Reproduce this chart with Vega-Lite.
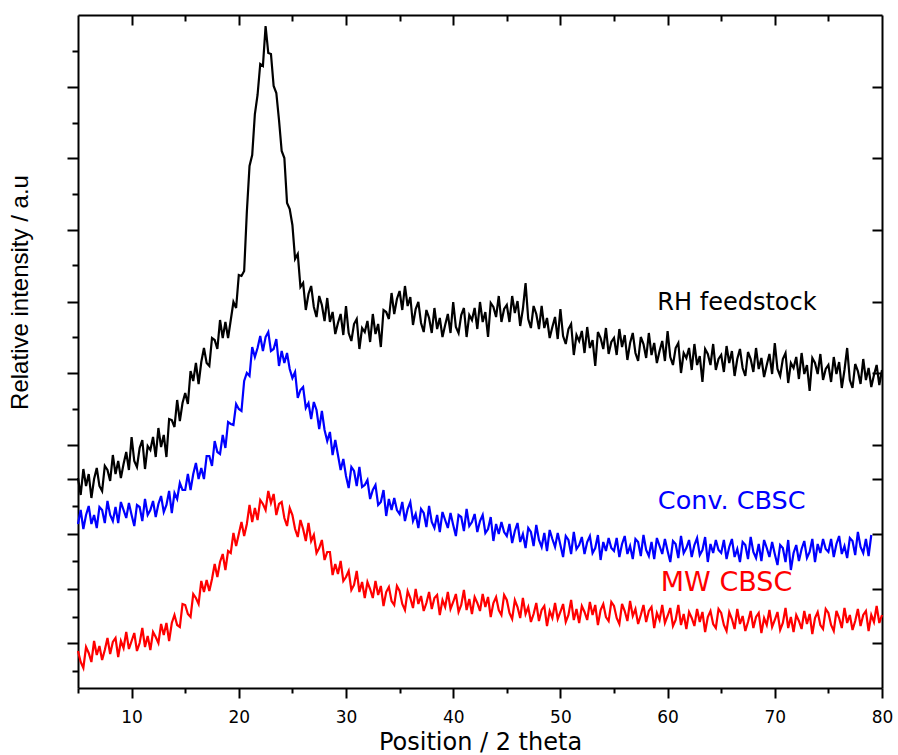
{
"$schema": "https://vega.github.io/schema/vega-lite/v6.json",
"width": 804, "height": 673,
"autosize": {"type": "none"},
"padding": {"left": 78, "top": 15, "right": 16, "bottom": 67},
"background": "white",
"config": {"view": {"stroke": null}, "font": "DejaVu Sans",
  "axis": {"grid": false, "domainColor": "#000", "domainWidth": 2, "tickColor": "#000", "tickWidth": 2, "labelColor": "#000", "titleColor": "#000", "titleFontWeight": "normal", "labelFlush": false, "labelOverlap": false}},
"datasets": {
"xrd": [
{"x":5,"a":210,"b":164,"c":37},{"x":5.25,"a":193,"b":178,"c":26},{"x":5.5,"a":219,"b":159,"c":20},{"x":5.75,"a":202,"b":173,"c":41},
{"x":6,"a":214,"b":182,"c":35},{"x":6.25,"a":190,"b":164,"c":26},{"x":6.5,"a":209,"b":173,"c":47},{"x":6.75,"a":220,"b":160,"c":33},
{"x":7,"a":202,"b":181,"c":42},{"x":7.25,"a":197,"b":178,"c":28},{"x":7.5,"a":222,"b":165,"c":38},{"x":7.75,"a":218,"b":187,"c":50},
{"x":8,"a":207,"b":173,"c":34},{"x":8.25,"a":233,"b":167,"c":46},{"x":8.5,"a":214,"b":181,"c":50},{"x":8.75,"a":227,"b":165,"c":31},
{"x":9,"a":210,"b":186,"c":47},{"x":9.25,"a":224,"b":178,"c":40},{"x":9.5,"a":236,"b":170,"c":56},{"x":9.75,"a":218,"b":185,"c":39},
{"x":10,"a":251,"b":173,"c":47},{"x":10.25,"a":227,"b":162,"c":55},{"x":10.5,"a":221,"b":183,"c":37},{"x":10.75,"a":240,"b":181,"c":45},
{"x":11,"a":248,"b":167,"c":60},{"x":11.25,"a":219,"b":189,"c":41},{"x":11.5,"a":242,"b":173,"c":52},{"x":11.75,"a":238,"b":178,"c":38},
{"x":12,"a":251,"b":187,"c":56},{"x":12.25,"a":231,"b":171,"c":51},{"x":12.5,"a":260,"b":184,"c":45},{"x":12.75,"a":241,"b":192,"c":64},
{"x":13,"a":253,"b":176,"c":53},{"x":13.25,"a":231,"b":183,"c":65},{"x":13.5,"a":269,"b":197,"c":47},{"x":13.75,"a":268,"b":175,"c":65},
{"x":14,"a":261,"b":195,"c":73},{"x":14.25,"a":288,"b":189,"c":63},{"x":14.5,"a":267,"b":205,"c":61},{"x":14.75,"a":285,"b":198,"c":84},
{"x":15,"a":295,"b":198,"c":83},{"x":15.25,"a":284,"b":214,"c":74},{"x":15.5,"a":317,"b":198,"c":71},{"x":15.75,"a":307,"b":214,"c":94},
{"x":16,"a":325,"b":225,"c":90},{"x":16.25,"a":304,"b":209,"c":84},{"x":16.5,"a":326,"b":220,"c":107},{"x":16.75,"a":340,"b":209,"c":96},
{"x":17,"a":325,"b":232,"c":108},{"x":17.25,"a":322,"b":232,"c":97},{"x":17.5,"a":350,"b":222,"c":109},{"x":17.75,"a":348,"b":247,"c":124},
{"x":18,"a":339,"b":236,"c":111},{"x":18.25,"a":368,"b":234,"c":126},{"x":18.5,"a":350,"b":253,"c":134},{"x":18.75,"a":366,"b":240,"c":118},
{"x":19,"a":350,"b":266,"c":137},{"x":19.25,"a":368,"b":264,"c":135},{"x":19.5,"a":386,"b":263,"c":155},{"x":19.75,"a":380,"b":284,"c":142},
{"x":20,"a":413,"b":279,"c":154},{"x":20.25,"a":412,"b":277,"c":166},{"x":20.5,"a":417,"b":307,"c":152},{"x":20.75,"a":476,"b":315,"c":164},
{"x":21,"a":522,"b":312,"c":183},{"x":21.25,"a":533,"b":341,"c":166},{"x":21.5,"a":574,"b":331,"c":180},{"x":21.75,"a":593,"b":340,"c":168},
{"x":22,"a":624,"b":352,"c":188},{"x":22.25,"a":622,"b":337,"c":184},{"x":22.5,"a":662,"b":351,"c":178},{"x":22.75,"a":635,"b":356,"c":197},
{"x":23,"a":634,"b":337,"c":185},{"x":23.25,"a":602,"b":339,"c":194},{"x":23.5,"a":595,"b":349,"c":173},{"x":23.75,"a":568,"b":322,"c":184},
{"x":24,"a":537,"b":337,"c":186},{"x":24.25,"a":530,"b":325,"c":170},{"x":24.5,"a":485,"b":335,"c":162},{"x":24.75,"a":479,"b":319,"c":180},
{"x":25,"a":463,"b":310,"c":173},{"x":25.25,"a":429,"b":316,"c":159},{"x":25.5,"a":434,"b":290,"c":151},{"x":25.75,"a":401,"b":298,"c":168},
{"x":26,"a":405,"b":301,"c":159},{"x":26.25,"a":378,"b":280,"c":147},{"x":26.5,"a":394,"b":285,"c":165},{"x":26.75,"a":402,"b":269,"c":147},
{"x":27,"a":381,"b":286,"c":153},{"x":27.25,"a":371,"b":278,"c":135},{"x":27.5,"a":392,"b":259,"c":140},{"x":27.75,"a":383,"b":277,"c":148},
{"x":28,"a":367,"b":258,"c":128},{"x":28.25,"a":390,"b":247,"c":136},{"x":28.5,"a":366,"b":256,"c":136},{"x":28.75,"a":376,"b":233,"c":113},
{"x":29,"a":354,"b":248,"c":124},{"x":29.25,"a":365,"b":233,"c":114},{"x":29.5,"a":374,"b":218,"c":127},{"x":29.75,"a":353,"b":229,"c":107},
{"x":30,"a":382,"b":212,"c":111},{"x":30.25,"a":355,"b":200,"c":117},{"x":30.5,"a":347,"b":221,"c":98},{"x":30.75,"a":364,"b":217,"c":103},
{"x":31,"a":369,"b":202,"c":117},{"x":31.25,"a":339,"b":221,"c":96},{"x":31.5,"a":360,"b":201,"c":106},{"x":31.75,"a":356,"b":203,"c":90},
{"x":32,"a":367,"b":208,"c":106},{"x":32.25,"a":346,"b":189,"c":99},{"x":32.5,"a":374,"b":198,"c":90},{"x":32.75,"a":354,"b":203,"c":107},
{"x":33,"a":364,"b":183,"c":93},{"x":33.25,"a":341,"b":186,"c":102},{"x":33.5,"a":378,"b":198,"c":82},{"x":33.75,"a":376,"b":172,"c":96},
{"x":34,"a":369,"b":189,"c":101},{"x":34.25,"a":395,"b":178,"c":87},{"x":34.5,"a":374,"b":190,"c":83},{"x":34.75,"a":389,"b":178,"c":102},
{"x":35,"a":397,"b":174,"c":97},{"x":35.25,"a":378,"b":186,"c":84},{"x":35.5,"a":402,"b":167,"c":78},{"x":35.75,"a":382,"b":179,"c":97},
{"x":36,"a":391,"b":186,"c":90},{"x":36.25,"a":363,"b":167,"c":80},{"x":36.5,"a":379,"b":174,"c":99},{"x":36.75,"a":386,"b":160,"c":84},
{"x":37,"a":365,"b":179,"c":92},{"x":37.25,"a":356,"b":175,"c":77},{"x":37.5,"a":378,"b":161,"c":85},{"x":37.75,"a":370,"b":182,"c":96},
{"x":38,"a":355,"b":166,"c":79},{"x":38.25,"a":380,"b":160,"c":90},{"x":38.5,"a":359,"b":173,"c":93},{"x":38.75,"a":370,"b":156,"c":73},
{"x":39,"a":351,"b":176,"c":88},{"x":39.25,"a":363,"b":168,"c":81},{"x":39.5,"a":374,"b":160,"c":96},{"x":39.75,"a":355,"b":175,"c":79},
{"x":40,"a":386,"b":163,"c":86},{"x":40.25,"a":361,"b":152,"c":94},{"x":40.5,"a":355,"b":173,"c":76},{"x":40.75,"a":373,"b":171,"c":83},
{"x":41,"a":380,"b":157,"c":98},{"x":41.25,"a":351,"b":179,"c":78},{"x":41.5,"a":373,"b":162,"c":89},{"x":41.75,"a":368,"b":166,"c":74},
{"x":42,"a":380,"b":174,"c":91},{"x":42.25,"a":359,"b":156,"c":85},{"x":42.5,"a":386,"b":167,"c":77},{"x":42.75,"a":366,"b":173,"c":94},
{"x":43,"a":376,"b":155,"c":81},{"x":43.25,"a":351,"b":159,"c":91},{"x":43.5,"a":385,"b":171,"c":71},{"x":43.75,"a":381,"b":147,"c":85},
{"x":44,"a":371,"b":164,"c":91},{"x":44.25,"a":392,"b":154,"c":78},{"x":44.5,"a":366,"b":166,"c":73},{"x":44.75,"a":379,"b":156,"c":93},
{"x":45,"a":383,"b":152,"c":88},{"x":45.25,"a":366,"b":164,"c":75},{"x":45.5,"a":392,"b":145,"c":69},{"x":45.75,"a":375,"b":157,"c":88},
{"x":46,"a":387,"b":165,"c":81},{"x":46.25,"a":362,"b":146,"c":70},{"x":46.5,"a":379,"b":154,"c":90},{"x":46.75,"a":405,"b":140,"c":74},
{"x":47,"a":369,"b":160,"c":81},{"x":47.25,"a":360,"b":156,"c":66},{"x":47.5,"a":382,"b":142,"c":74},{"x":47.75,"a":374,"b":163,"c":85},
{"x":48,"a":359,"b":148,"c":67},{"x":48.25,"a":382,"b":141,"c":78},{"x":48.5,"a":360,"b":155,"c":82},{"x":48.75,"a":370,"b":137,"c":62},
{"x":49,"a":350,"b":158,"c":77},{"x":49.25,"a":361,"b":149,"c":70},{"x":49.5,"a":371,"b":141,"c":85},{"x":49.75,"a":349,"b":155,"c":69},
{"x":50,"a":379,"b":143,"c":76},{"x":50.25,"a":352,"b":131,"c":84},{"x":50.5,"a":344,"b":152,"c":66},{"x":50.75,"a":359,"b":148,"c":73},
{"x":51,"a":364,"b":134,"c":88},{"x":51.25,"a":333,"b":156,"c":68},{"x":51.5,"a":353,"b":139,"c":79},{"x":51.75,"a":347,"b":143,"c":65},
{"x":52,"a":357,"b":151,"c":82},{"x":52.25,"a":335,"b":134,"c":76},{"x":52.5,"a":361,"b":146,"c":68},{"x":52.75,"a":340,"b":152,"c":86},
{"x":53,"a":348,"b":135,"c":73},{"x":53.25,"a":322,"b":140,"c":83},{"x":53.5,"a":356,"b":153,"c":63},{"x":53.75,"a":350,"b":128,"c":78},
{"x":54,"a":339,"b":146,"c":84},{"x":54.25,"a":360,"b":137,"c":71},{"x":54.5,"a":334,"b":150,"c":67},{"x":54.75,"a":346,"b":140,"c":86},
{"x":55,"a":350,"b":137,"c":82},{"x":55.25,"a":333,"b":150,"c":70},{"x":55.5,"a":359,"b":131,"c":64},{"x":55.75,"a":341,"b":144,"c":84},
{"x":56,"a":353,"b":152,"c":77},{"x":56.25,"a":328,"b":134,"c":67},{"x":56.5,"a":345,"b":142,"c":87},{"x":56.75,"a":355,"b":129,"c":72},
{"x":57,"a":335,"b":149,"c":79},{"x":57.25,"a":327,"b":146,"c":64},{"x":57.5,"a":351,"b":132,"c":73},{"x":57.75,"a":344,"b":153,"c":83},
{"x":58,"a":330,"b":138,"c":66},{"x":58.25,"a":355,"b":132,"c":77},{"x":58.5,"a":333,"b":146,"c":81},{"x":58.75,"a":345,"b":129,"c":60},
{"x":59,"a":325,"b":150,"c":75},{"x":59.25,"a":337,"b":142,"c":68},{"x":59.5,"a":347,"b":134,"c":83},{"x":59.75,"a":327,"b":149,"c":65},
{"x":60,"a":357,"b":137,"c":72},{"x":60.25,"a":331,"b":126,"c":80},{"x":60.5,"a":323,"b":147,"c":62},{"x":60.75,"a":340,"b":144,"c":68},
{"x":61,"a":345,"b":130,"c":83},{"x":61.25,"a":315,"b":152,"c":63},{"x":61.5,"a":335,"b":135,"c":74},{"x":61.75,"a":330,"b":140,"c":59},
{"x":62,"a":340,"b":148,"c":76},{"x":62.25,"a":318,"b":131,"c":70},{"x":62.5,"a":344,"b":143,"c":62},{"x":62.75,"a":323,"b":150,"c":79},
{"x":63,"a":332,"b":133,"c":66},{"x":63.25,"a":306,"b":138,"c":76},{"x":63.5,"a":339,"b":151,"c":56},{"x":63.75,"a":334,"b":126,"c":71},
{"x":64,"a":323,"b":144,"c":77},{"x":64.25,"a":344,"b":135,"c":64},{"x":64.5,"a":318,"b":148,"c":60},{"x":64.75,"a":329,"b":138,"c":79},
{"x":65,"a":333,"b":135,"c":75},{"x":65.25,"a":316,"b":148,"c":63},{"x":65.5,"a":342,"b":129,"c":57},{"x":65.75,"a":325,"b":141,"c":76},
{"x":66,"a":337,"b":149,"c":69},{"x":66.25,"a":312,"b":131,"c":59},{"x":66.5,"a":329,"b":139,"c":79},{"x":66.75,"a":339,"b":126,"c":64},
{"x":67,"a":320,"b":146,"c":72},{"x":67.25,"a":312,"b":143,"c":57},{"x":67.5,"a":336,"b":129,"c":66},{"x":67.75,"a":329,"b":151,"c":77},
{"x":68,"a":316,"b":136,"c":60},{"x":68.25,"a":340,"b":130,"c":71},{"x":68.5,"a":319,"b":144,"c":75},{"x":68.75,"a":330,"b":127,"c":55},
{"x":69,"a":311,"b":148,"c":70},{"x":69.25,"a":323,"b":140,"c":63},{"x":69.5,"a":334,"b":131,"c":78},{"x":69.75,"a":314,"b":146,"c":61},
{"x":70,"a":345,"b":134,"c":68},{"x":70.25,"a":319,"b":123,"c":76},{"x":70.5,"a":312,"b":143,"c":58},{"x":70.75,"a":329,"b":140,"c":65},
{"x":71,"a":335,"b":126,"c":80},{"x":71.25,"a":305,"b":148,"c":60},{"x":71.5,"a":325,"b":118,"c":71},{"x":71.75,"a":320,"b":135,"c":56},
{"x":72,"a":331,"b":143,"c":73},{"x":72.25,"a":309,"b":127,"c":67},{"x":72.5,"a":335,"b":139,"c":59},{"x":72.75,"a":314,"b":147,"c":77},
{"x":73,"a":323,"b":130,"c":64},{"x":73.25,"a":297,"b":136,"c":74},{"x":73.5,"a":330,"b":149,"c":54},{"x":73.75,"a":325,"b":126,"c":70},
{"x":74,"a":314,"b":144,"c":76},{"x":74.25,"a":334,"b":135,"c":63},{"x":74.5,"a":308,"b":149,"c":59},{"x":74.75,"a":319,"b":139,"c":79},
{"x":75,"a":323,"b":136,"c":75},{"x":75.25,"a":306,"b":149,"c":63},{"x":75.5,"a":331,"b":131,"c":57},{"x":75.75,"a":314,"b":144,"c":77},
{"x":76,"a":326,"b":152,"c":70},{"x":76.25,"a":300,"b":134,"c":60},{"x":76.5,"a":318,"b":142,"c":80},{"x":76.75,"a":340,"b":130,"c":65},
{"x":77,"a":308,"b":150,"c":73},{"x":77.25,"a":300,"b":147,"c":58},{"x":77.5,"a":324,"b":133,"c":67},{"x":77.75,"a":317,"b":156,"c":79},
{"x":78,"a":304,"b":141,"c":62},{"x":78.25,"a":329,"b":135,"c":73},{"x":78.5,"a":308,"b":149,"c":77},{"x":78.75,"a":320,"b":132,"c":57},
{"x":79,"a":301,"b":153,"c":73},{"x":79.25,"a":313,"b":null,"c":66},{"x":79.5,"a":323,"b":null,"c":82},{"x":79.75,"a":303,"b":null,"c":65},
{"x":80,"a":318,"b":null,"c":73}
],
"labels": [
{"x":66.47,"y":378,"t":"RH feedstock","s":"a"},
{"x":65.98,"y":179,"t":"Conv. CBSC","s":"b"},
{"x":65.5,"y":97,"t":"MW CBSC","s":"c"}
]
},
"layer": [
{
 "data": {"name": "xrd"},
 "transform": [{"fold": ["a","b","c"], "as": ["series","intensity"]}],
 "mark": {"type": "line", "strokeWidth": 2.2, "strokeJoin": "miter"},
 "encoding": {
  "x": {"field": "x", "type": "quantitative",
    "scale": {"domain": [5,80], "nice": false, "zero": false},
    "axis": {"orient": "bottom", "values": [5,10,15,20,25,30,35,40,45,50,55,60,65,70,75,80],
      "labelExpr": "datum.value % 10 === 0 ? datum.label : ''",
      "tickSize": {"condition": {"test": "datum.value % 10 === 0", "value": 10}, "value": 5},
      "labelFontSize": 17, "labelBaseline": "alphabetic", "labelPadding": 24,
      "title": "Position / 2 theta", "titleFontSize": 24, "titleBaseline": "alphabetic", "titleX": 402, "titleY": 61}},
  "y": {"field": "intensity", "type": "quantitative",
    "scale": {"domain": [0,673], "nice": false, "zero": false},
    "axis": {"orient": "left", "values": [601,530,458,386,315,243,209,154,99,45,637,565,494,423,351,279,182,127,71,17],
      "labels": false,
      "tickSize": {"condition": {"test": "indexof([601,530,458,386,315,243,209,154,99,45], datum.value) >= 0", "value": 11}, "value": 6},
      "title": "Relative intensity / a.u", "titleFont": "Liberation Sans", "titleFontSize": 24, "titleBaseline": "middle", "titleX": -58, "titleY": 277}},
  "color": {"field": "series", "type": "nominal", "scale": {"domain": ["a","b","c"], "range": ["#000000","#0000ff","#ff0000"]}, "legend": null}
 }
},
{
 "data": {"name": "labels"},
 "mark": {"type": "text", "align": "center", "baseline": "alphabetic", "font": "DejaVu Sans"},
 "encoding": {
  "x": {"field": "x", "type": "quantitative",
    "scale": {"domain": [5,80], "nice": false, "zero": false},
    "axis": {"orient": "top", "values": [10,15,20,25,30,35,40,45,50,55,60,65,70,75], "labels": false, "title": null,
      "tickSize": {"condition": {"test": "datum.value % 10 === 0", "value": -10}, "value": -6}}},
  "y": {"field": "y", "type": "quantitative",
    "scale": {"domain": [0,673], "nice": false, "zero": false},
    "axis": {"orient": "right", "values": [601,530,458,386,315,243,209,154,99,45], "labels": false, "title": null, "tickSize": -10}},
  "text": {"field": "t"},
  "color": {"field": "s", "type": "nominal", "scale": {"domain": ["a","b","c"], "range": ["#000000","#0000ff","#ff0000"]}, "legend": null},
  "size": {"field": "t", "type": "nominal", "scale": {"domain": ["RH feedstock","Conv. CBSC","MW CBSC"], "range": [24,27,24]}, "legend": null}
 }
}
],
"resolve": {"axis": {"x": "independent", "y": "independent"}}
}
